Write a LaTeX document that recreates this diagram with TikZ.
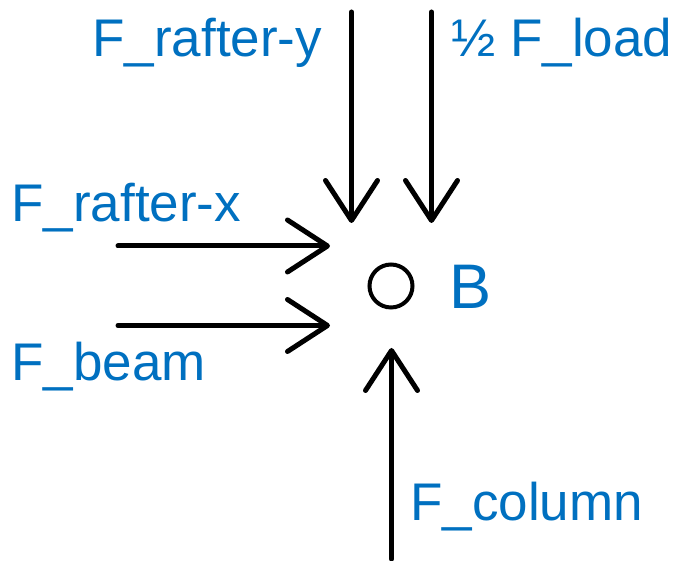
\documentclass[tikz,border=0pt]{standalone}
\usepackage{fontspec}
\setmainfont{Liberation Sans}
\usepackage{tikz}
\usetikzlibrary{arrows.meta}
\definecolor{forceblue}{RGB}{0,112,192}

\begin{document}
\begin{tikzpicture}[x=0.5pt, y=0.5pt,
        >={Straight Barb[length=20pt,width=26pt,round]},
        force/.style={line width=2.5pt, line cap=round, ->},
        lbl/.style={forceblue, anchor=base west, inner sep=0pt, font=\fontsize{26.5}{30}\selectfont}]
        \useasboundingbox (0,0) rectangle (681,561);
        \path 
        (351.5,549) coordinate (ry1)
        (351.5,338) coordinate (ry2)
        (431.5,549) coordinate (ld1)
        (431.5,338) coordinate (ld2)
        (118,315) coordinate (rx1)
        (330,315) coordinate (rx2)
        (118,235.5) coordinate (bm1)
        (330,235.5) coordinate (bm2)
        (391.5,2) coordinate (cl1)
        (391.5,213) coordinate (cl2)
        ;
        
        \node[circle, draw, line width=2pt, minimum size=21.5pt, inner sep=0pt] (B) at (391,275) {};
        
        \draw 
        (449,252) node[lbl, font=\fontsize{31.5}{36}\selectfont] (Blbl) {B}
        (92,504) node[lbl] (rylbl) {F\_rafter-y}
        (451,504) node[lbl] (ldlbl) {½ F\_load}
        (11,339) node[lbl] (rxlbl) {F\_rafter-x}
        (11,180) node[lbl] (bmlbl) {F\_beam}
        (410,40) node[lbl] (cllbl) {F\_column}
        ;
        
        \draw[force] (ry1) -- (ry2);
        \draw[force] (ld1) -- (ld2);
        \draw[force] (rx1) -- (rx2);
        \draw[force] (bm1) -- (bm2);
        \draw[force] (cl1) -- (cl2);
\end{tikzpicture}
\end{document}
